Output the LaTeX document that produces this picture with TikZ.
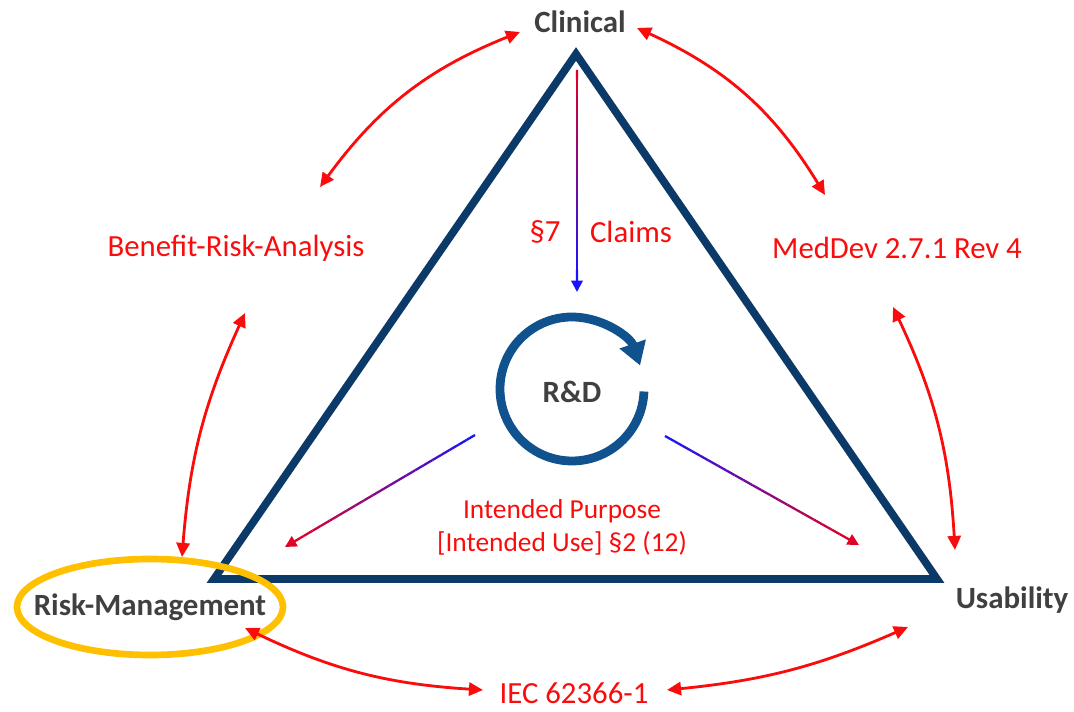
\documentclass[tikz,border=0pt]{standalone}
\usepackage{fontspec}
\setmainfont{Carlito}
\usetikzlibrary{arrows.meta,calc,positioning}

\definecolor{mdred}{RGB}{250,12,12}
\definecolor{labelgray}{RGB}{64,64,64}
\definecolor{trinavy}{RGB}{12,58,104}
\definecolor{rdblue}{RGB}{16,82,142}
\definecolor{ringgold}{RGB}{255,192,0}
\definecolor{gradred}{RGB}{225,0,40}
\definecolor{gradblue}{RGB}{25,20,250}

\tikzset{
  corner/.style={font=\fontsize{17.6}{21}\selectfont\bfseries, text=labelgray, inner sep=0pt},
  reflabel/.style={font=\fontsize{17.5}{21}\selectfont, text=mdred, inner sep=0pt},
  biarrow/.style={{Triangle[length=8pt,width=7.5pt]}-{Triangle[length=8pt,width=7.5pt]}, line width=1.6pt, draw=mdred},
}

\begin{document}
\begin{tikzpicture}[x=0.02cm,y=0.02cm]
\useasboundingbox (0,0) rectangle (1074,712);

% triangle
\coordinate (apex) at (576,658);
\coordinate (bl) at (214,133);
\coordinate (br) at (937,133);
\draw[trinavy, line width=4.4pt, line join=miter] (apex) -- (bl) -- (br) -- cycle;

% corner labels
\node[corner] (clin) at (580,690) {Clinical};
\node[corner] (risk) at (150,105) {Risk-Management};
\node[corner] (usab) at (1012,112) {Usability};
\node[corner] (rd) at (572,320) {R\&D};

% references
\node[reflabel] (bra) at (236,464) {Benefit-Risk-Analysis};
\node[reflabel] (meddev) at (897,464) {MedDev 2.7.1 Rev 4};
\node[reflabel] (iec) at (574,19) {IEC 62366-1};
\node[reflabel] (sec7) at (545,480) {§7};
\node[reflabel] (claims) at (631,480) {Claims};
\node[reflabel, font=\fontsize{15.6}{18.7}\selectfont, align=center] (ip) at (562,185)
  {Intended Purpose\\{}[Intended Use] §2 (12)};

% ring round Risk-Management
\draw[ringgold, line width=3.8pt] (risk.center) ellipse [x radius=133, y radius=48];

% R&D cycle
\coordinate (rdc) at (572,323);
\draw[rdblue, line width=5pt, -{Triangle[length=13pt,width=15pt]}]
  (rdc) ++(-2:72) arc[start angle=-2, end angle=-341, radius=72];

% ends of the red arrows
\coordinate (bra-ne) at (320,525);
\coordinate (clin-w) at (520,680);
\coordinate (clin-e) at (637,684);
\coordinate (med-nw) at (825,517);
\coordinate (bra-s) at (245,399);
\coordinate (risk-n) at (182,155);
\coordinate (med-s) at (893,405);
\coordinate (usab-n) at (955,162);
\coordinate (risk-se) at (245,84);
\coordinate (iec-w) at (483,22);
\coordinate (iec-e) at (667,22);
\coordinate (usab-sw) at (908,85);

\draw[biarrow] (bra-ne) to[bend left=16] (clin-w);
\draw[biarrow] (clin-e) to[bend left=17] (med-nw);
\draw[biarrow] (bra-s) to[bend right=10] (risk-n);
\draw[biarrow] (med-s) to[bend left=11] (usab-n);
\draw[biarrow] (risk-se) to[bend right=11] (iec-w);
\draw[biarrow] (iec-e) to[bend right=9] (usab-sw);

% shaded arrows
\coordinate (claim-top) at (577,642);
\coordinate (claim-tip) at (577,420);
\coordinate (rd-sw) at (475,277);
\coordinate (ip-w) at (285,165);
\coordinate (rd-se) at (665,276);
\coordinate (ip-e) at (859,167);

\foreach \src/\dst/\csrc/\cdst in {claim-top/claim-tip/gradred/gradblue,
                                   rd-sw/ip-w/gradblue/gradred,
                                   rd-se/ip-e/gradblue/gradred}{
  \foreach \k in {0,...,19}{
    \pgfmathtruncatemacro\mix{100-5*\k}
    \draw[color=\csrc!\mix!\cdst, line width=1.3pt]
      ($(\src)!{\k*0.045}!(\dst)$) -- ($(\src)!{(\k+1)*0.045}!(\dst)$);
  }
  \draw[color=\cdst, line width=1.3pt, -{Triangle[length=6.5pt,width=6.5pt]}]
    ($(\src)!0.9!(\dst)$) -- (\dst);
}
\end{tikzpicture}
\end{document}
